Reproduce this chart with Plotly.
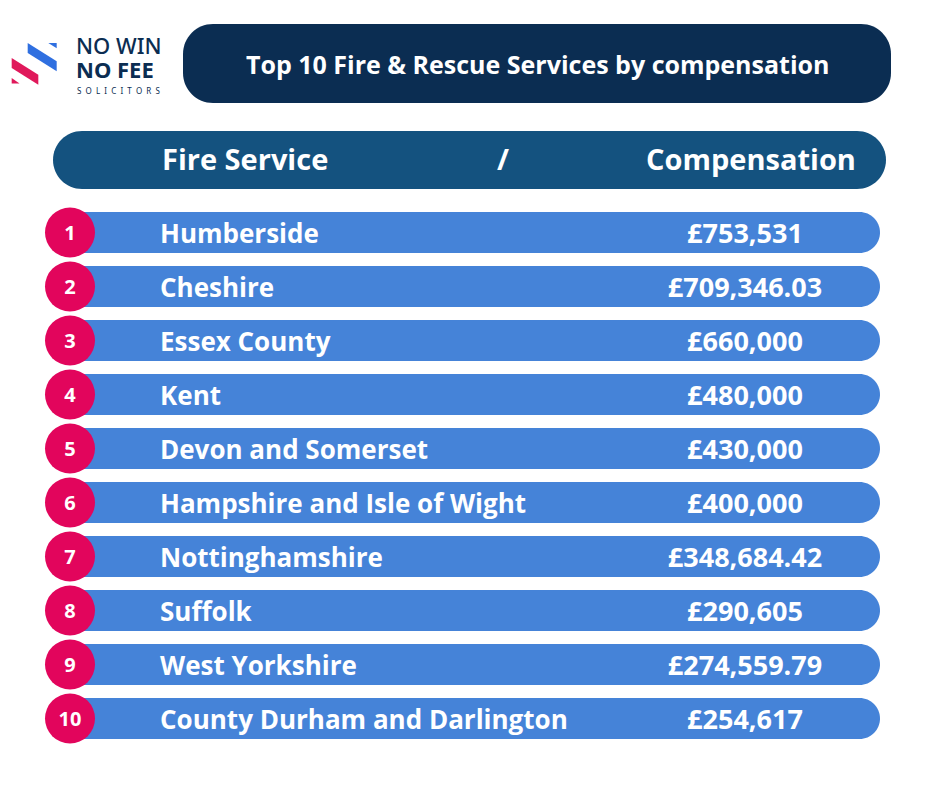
import plotly.graph_objects as go

# table data
ranks = ["1", "2", "3", "4", "5", "6", "7", "8", "9", "10"]
services = ["Humberside", "Cheshire", "Essex County", "Kent", "Devon and Somerset",
            "Hampshire and Isle of Wight", "Nottinghamshire", "Suffolk",
            "West Yorkshire", "County Durham and Darlington"]
compensation = [753531, 709346.03, 660000, 480000, 430000,
                400000, 348684.42, 290605, 274559.79, 254617]

title = "Top 10 Fire & Rescue Services by compensation"
headers = ["Fire Service", "/", "Compensation"]

NAVY = "#0b2d52"
HEAD = "#14527f"
BAR = "#4583d8"
PINK = "#e2055c"
FONT = "Open Sans"

# page body has an 8px margin, so map axis units straight to window pixels
PAD = 8
W, H = 940, 788
ROW0, STEP, BAR_H = 232.5, 54, 41
TXT_DY = 4  # plotly sits text a touch high, nudge it down


def money(v):
    s = f"£{v:,.2f}"
    return s[:-3] if s.endswith(".00") else s


def rrect(x0, y0, x1, y1, r):
    k = 0.5523 * r
    return (f"M {x0 + r},{y0} L {x1 - r},{y0} "
            f"C {x1 - r + k},{y0} {x1},{y0 + r - k} {x1},{y0 + r} "
            f"L {x1},{y1 - r} "
            f"C {x1},{y1 - r + k} {x1 - r + k},{y1} {x1 - r},{y1} "
            f"L {x0 + r},{y1} "
            f"C {x0 + r - k},{y1} {x0},{y1 - r + k} {x0},{y1 - r} "
            f"L {x0},{y0 + r} "
            f"C {x0},{y0 + r - k} {x0 + r - k},{y0} {x0 + r},{y0} Z")


row_y = [ROW0 + STEP * i for i in range(len(services))]
text_y = [y + TXT_DY for y in row_y]

fig = go.Figure()

shapes = []
# title pill and header pill
shapes.append(dict(type="path", path=rrect(183, 24, 891, 103, 30),
                   fillcolor=NAVY, line_width=0, layer="below"))
shapes.append(dict(type="path", path=rrect(53, 131, 886, 189, 29),
                   fillcolor=HEAD, line_width=0, layer="below"))
# row bars
for y in row_y:
    shapes.append(dict(type="path",
                       path=rrect(60, y - BAR_H / 2, 880, y + BAR_H / 2, BAR_H / 2),
                       fillcolor=BAR, line_width=0, layer="below"))

# logo stripes
logo = [
    ("M 27.7,43 L 56.7,61.3 L 56.7,71.3 L 27.7,53 Z", "#2f6fe0"),
    ("M 48.3,43 L 56.7,43 L 56.7,48.3 Z", "#2f6fe0"),
    ("M 11.7,58 L 38.3,74.7 L 38.3,84.7 L 11.7,68 Z", "#e0195b"),
    ("M 11.7,78 L 11.7,83.5 L 19.5,83.5 Z", "#e0195b"),
]
for p, c in logo:
    shapes.append(dict(type="path", path=p, fillcolor=c, line_width=0, layer="below"))

# rank circles
fig.add_trace(go.Scatter(
    x=[70] * len(ranks), y=row_y, mode="markers",
    marker=dict(size=50, color=PINK, line_width=0), hoverinfo="skip"))
fig.add_trace(go.Scatter(
    x=[70] * len(ranks), y=[y + 2 for y in row_y], mode="text", text=ranks,
    textfont=dict(family=FONT, size=20, color="white", weight="bold"),
    textposition="middle center", hoverinfo="skip"))

# service names
fig.add_trace(go.Scatter(
    x=[160] * len(services), y=text_y, mode="text", text=services,
    textposition="middle right",
    textfont=dict(family=FONT, size=26, color="white", weight="bold"),
    hoverinfo="skip"))

# compensation values
fig.add_trace(go.Scatter(
    x=[745] * len(compensation), y=text_y, mode="text",
    text=[money(v) for v in compensation], textposition="middle center",
    textfont=dict(family=FONT, size=27, color="white", weight="bold"),
    hoverinfo="skip"))

# header row
fig.add_trace(go.Scatter(
    x=[162, 503, 751], y=[163, 163, 163], mode="text", text=headers,
    textposition=["middle right", "middle center", "middle center"],
    textfont=dict(family=FONT, size=29, color="white", weight="bold"),
    hoverinfo="skip"))

# title
fig.add_annotation(x=537, y=64, text=title, showarrow=False,
                   font=dict(family=FONT, size=25, color="white", weight="bold"))

# logo text
fig.add_annotation(x=74, y=45, text="NO WIN", showarrow=False, xanchor="left",
                   font=dict(family="Noto Sans", size=22, color=NAVY, weight=500))
fig.add_annotation(x=74, y=69, text="NO FEE", showarrow=False, xanchor="left",
                   font=dict(family="Noto Sans", size=22, color=NAVY, weight=700))
fig.add_annotation(x=75, y=90, text="S  O  L  I  C  I  T  O  R  S", showarrow=False,
                   xanchor="left",
                   font=dict(family="Noto Sans", size=8, color=NAVY))

fig.update_layout(
    width=W - 2 * PAD, height=H - 2 * PAD, margin=dict(l=0, r=0, t=0, b=0),
    paper_bgcolor="white", plot_bgcolor="white", showlegend=False,
    shapes=shapes,
    xaxis=dict(range=[PAD, W - PAD], visible=False, fixedrange=True),
    yaxis=dict(range=[H - PAD, PAD], visible=False, fixedrange=True),
)

fig.write_html("out.html")
